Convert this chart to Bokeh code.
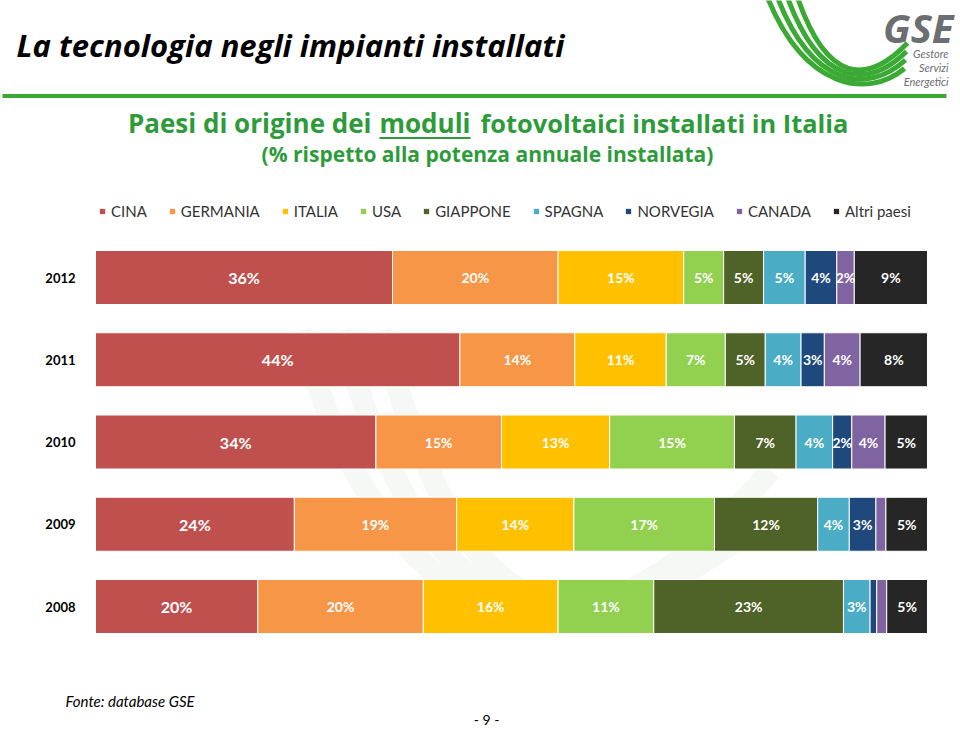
import numpy as np
from bokeh.plotting import figure
from bokeh.models import ColumnDataSource, Range1d, Label
from bokeh.core.properties import value
from bokeh.embed import file_html
from bokeh.resources import INLINE

# ---------------- data ----------------
years = [2012, 2011, 2010, 2009, 2008]
countries = ["CINA", "GERMANIA", "ITALIA", "USA", "GIAPPONE",
             "SPAGNA", "NORVEGIA", "CANADA", "Altri paesi"]
colors = ["#c0504d", "#f79646", "#ffc000", "#92d050", "#4f6228",
          "#4bacc6", "#1f497d", "#8064a2", "#262626"]

# share of the annual installed power (%), years 2012..2008
cina     = [35.7, 43.8, 33.7, 23.9, 19.5]
germania = [19.9, 13.8, 15.1, 19.5, 19.9]
italia   = [15.1, 11.0, 13.0, 14.1, 16.2]
usa      = [4.8, 7.1, 15.0, 16.9, 11.5]
giappone = [4.8, 4.8, 7.4, 12.4, 22.8]
spagna   = [5.0, 4.3, 4.4, 3.8, 3.2]
norvegia = [3.8, 2.8, 2.3, 3.2, 0.8]
canada   = [2.1, 4.3, 4.0, 1.2, 1.2]
altri    = [8.8, 8.1, 5.1, 5.0, 4.9]

# printed labels inside the segments ("" = no label)
lab_2012 = ["36%", "20%", "15%", "5%", "5%", "5%", "4%", "2%", "9%"]
lab_2011 = ["44%", "14%", "11%", "7%", "5%", "4%", "3%", "4%", "8%"]
lab_2010 = ["34%", "15%", "13%", "15%", "7%", "4%", "2%", "4%", "5%"]
lab_2009 = ["24%", "19%", "14%", "17%", "12%", "4%", "3%", "", "5%"]
lab_2008 = ["20%", "20%", "16%", "11%", "23%", "3%", "", "", "5%"]

# ---------------- figure ----------------
W, H = 960, 730
PPU = 8.32          # pixels per percentage point
X0PX = 95           # pixel where 0 % lies
ROW = 82.25         # pixels between two years
Y2012 = 277         # pixel of the 2012 bar centre
x0 = -X0PX / PPU
x1 = (W - X0PX) / PPU
y_top = 2012 + Y2012 / ROW
y_bot = 2012 - (H - Y2012) / ROW

p = figure(width=W, height=H, output_backend="svg", toolbar_location=None,
           x_range=Range1d(x0, x1), y_range=Range1d(y_bot, y_top),
           x_axis_type=None, y_axis_type=None, min_border=0,
           outline_line_color=None, background_fill_color="white",
           border_fill_color="white")
p.grid.visible = False
# pixel range for the page decoration (y downwards)
p.extra_x_ranges["px"] = Range1d(0, W)
p.extra_y_ranges["px"] = Range1d(H, 0)

keys = ["cina", "germania", "italia", "usa", "giappone",
        "spagna", "norvegia", "canada", "altri"]
series = [cina, germania, italia, usa, giappone, spagna, norvegia, canada, altri]
src = ColumnDataSource(dict(year=years, **{k: v for k, v in zip(keys, series)}))

# very faint watermark swoosh in the background
for i in range(3):
    p.bezier(x0=[300 + 40 * i], y0=[330], x1=[770 - 10 * i], y1=[470 + 30 * i],
             cx0=[380 + 40 * i], cy0=[620], cx1=[560], cy1=[720 - 25 * i],
             line_color="#f5f8f4", line_width=22,
             x_range_name="px", y_range_name="px")

p.hbar_stack(keys, y="year", height=54 / ROW, color=colors, source=src,
             line_color="white", line_width=1, legend_label=countries)

# segment labels
lx, ly, lt, ls = [], [], [], []
all_labels = [lab_2012, lab_2011, lab_2010, lab_2009, lab_2008]
for r, yr in enumerate(years):
    vals = [s[r] for s in series]
    right = np.cumsum(vals)
    left = right - np.array(vals)
    for j in range(len(vals)):
        if all_labels[r][j]:
            lx.append((left[j] + right[j]) / 2)
            ly.append(yr)
            lt.append(all_labels[r][j])
            ls.append("16px" if j == 0 else "14px")
p.text(x="x", y="y", text="t", source=ColumnDataSource(dict(x=lx, y=ly, t=lt, s=ls)),
       text_align="center", text_baseline="middle", text_color="white",
       text_font=value("Lato"), text_font_style="bold", text_font_size="s")

# year labels
p.text(x=-20 / PPU, y=years, text=[str(y) for y in years], text_align="right",
       text_baseline="middle", text_color="black", text_font=value("Lato"),
       text_font_style="bold", text_font_size="13px")

# legend
leg = p.legend[0]
leg.orientation = "horizontal"
leg.location = (98, H - 220)
leg.padding = 0
leg.margin = 0
leg.spacing = 21
leg.glyph_width = 8
leg.glyph_height = 8
leg.label_standoff = 5
leg.label_height = 14
leg.border_line_color = None
leg.background_fill_alpha = 0
leg.label_text_font = "Lato"
leg.label_text_font_size = "15px"
leg.label_text_color = "#333333"


def add_text(x, baseline_y, text, size, color="black", style="normal", align="left",
             font="Lato"):
    # the svg text sits about 0.4 em lower than the requested baseline
    p.add_layout(Label(x=x, y=baseline_y - 0.4 * size, x_range_name="px",
                       y_range_name="px", text=text,
                       text_font=font, text_font_size=f"{size}px",
                       text_font_style=style, text_color=color,
                       text_align=align, text_baseline="alphabetic"))


# header
add_text(16, 57, "La tecnologia negli impianti installati", 31,
         style="bold italic", font="Open Sans")
p.segment(x0=[2], y0=[95.5], x1=[946], y1=[95.5], line_color="#3aa935",
          line_width=4, x_range_name="px", y_range_name="px")

# GSE logo
for i in range(4):
    p.bezier(x0=[767 + 10 * i], y0=[-3], x1=[904 + i], y1=[68 - 8.5 * i],
             cx0=[805 + 7 * i], cy0=[90 - 3 * i], cx1=[868 - i], cy1=[98 - 4 * i],
             line_color="#3aaa35", line_width=5,
             x_range_name="px", y_range_name="px")
add_text(953, 43, "GSE", 40, color="#6d6e71", style="bold italic", align="right",
         font="Open Sans")
add_text(948, 57, "Gestore", 11, color="#6d6e71", style="italic", align="right")
add_text(948, 71, "Servizi", 11, color="#6d6e71", style="italic", align="right")
add_text(948, 85, "Energetici", 11, color="#6d6e71", style="italic", align="right")

# chart titles
green = "#2e9b3b"
add_text(371, 133, "Paesi di origine dei", 26, color=green, style="bold",
         align="right", font="Open Sans")
add_text(424.5, 133, "moduli", 26, color=green, style="bold",
         align="center", font="Open Sans")
add_text(480, 133, "fotovoltaici installati in Italia", 25.4, color=green, style="bold",
         align="left", font="Open Sans")
p.segment(x0=[379], y0=[137.5], x1=[470], y1=[137.5], line_color=green, line_width=2,
          x_range_name="px", y_range_name="px")
add_text(487, 162, "(% rispetto alla potenza annuale installata)", 21,
         color=green, style="bold", align="center", font="Open Sans")

# footer
add_text(65, 706, "Fonte: database GSE", 15, style="italic")
add_text(486, 725, "- 9 -", 14, align="center")

open("out.html", "w").write(file_html(p, INLINE))
